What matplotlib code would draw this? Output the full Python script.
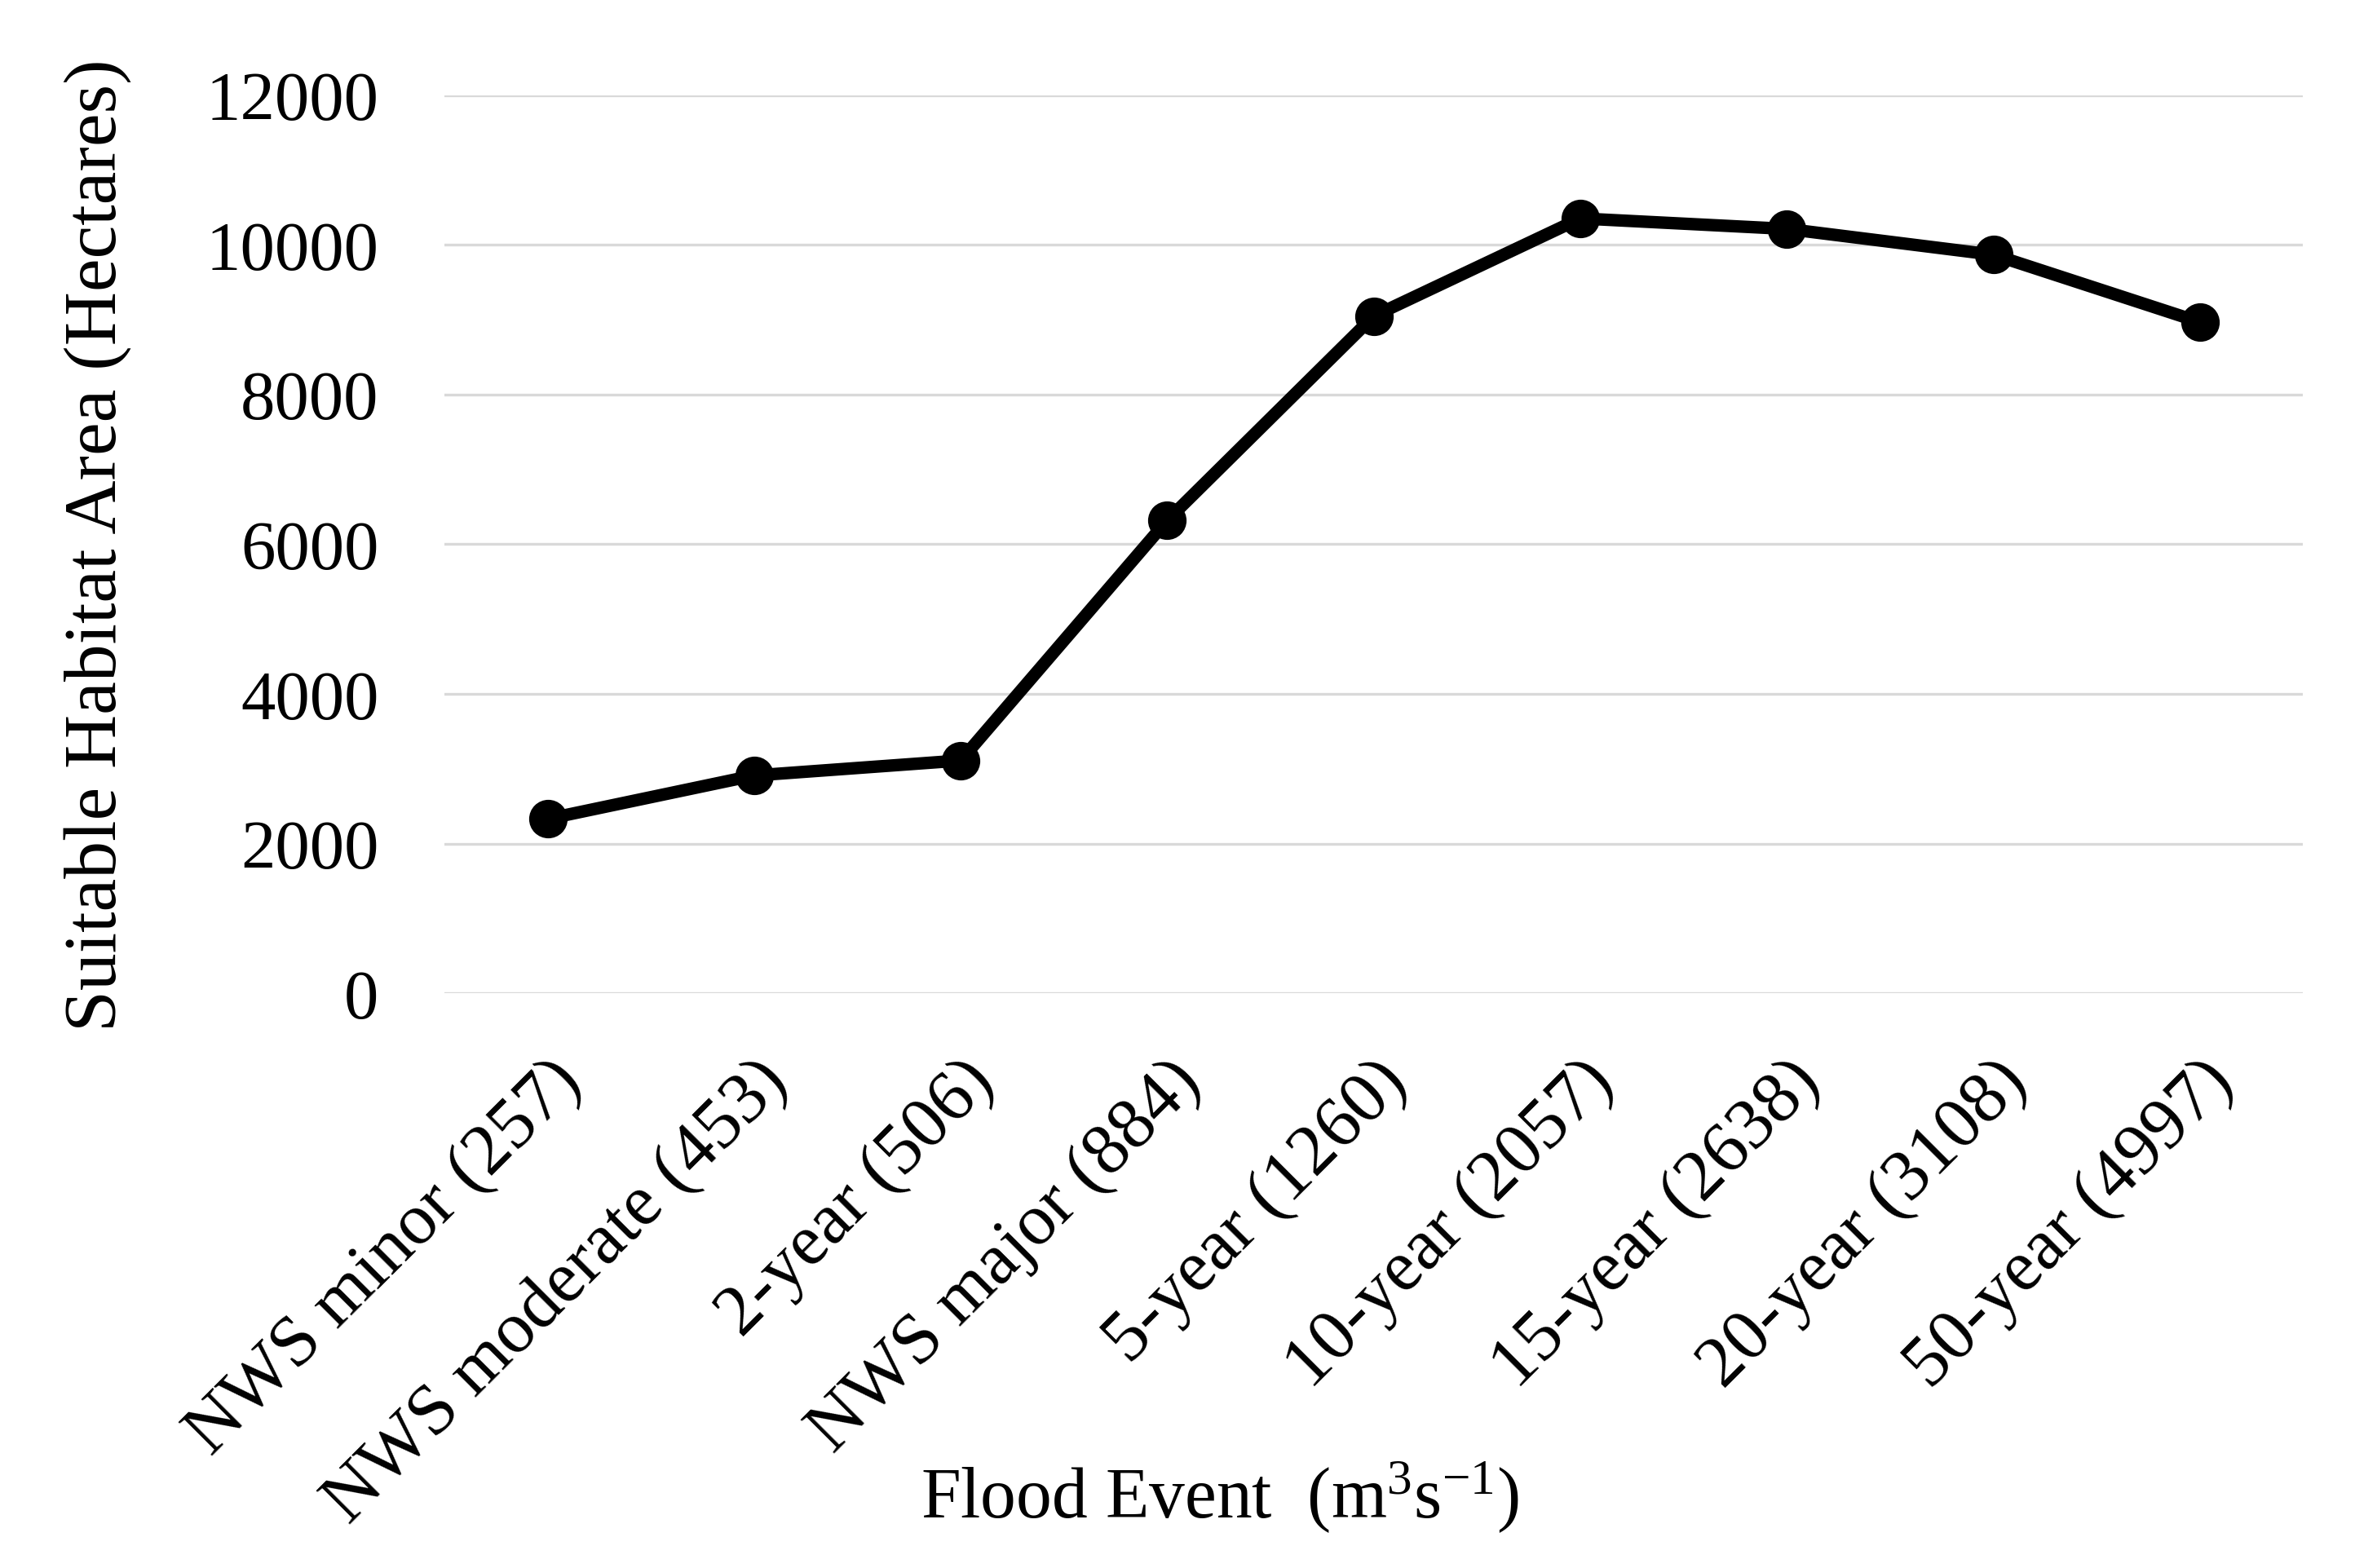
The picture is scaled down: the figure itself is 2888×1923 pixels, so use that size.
import matplotlib
matplotlib.use("Agg")
from matplotlib import pyplot as plt
import numpy as np

# flood events (discharge in m3/s) and suitable habitat area
events = [
    "NWS minor (257)",
    "NWS moderate (453)",
    "2-year (506)",
    "NWS major (884)",
    "5-year (1260)",
    "10-year (2057)",
    "15-year (2638)",
    "20-year (3108)",
    "50-year (4997)",
]
habitat_area = [2330, 2910, 3110, 6320, 9050, 10355, 10215, 9870, 8970]
y_ticks = [0, 2000, 4000, 6000, 8000, 10000, 12000]

plt.rcParams["font.family"] = ["Liberation Serif", "DejaVu Serif"]
plt.rcParams["mathtext.fontset"] = "custom"
plt.rcParams["mathtext.rm"] = "Liberation Serif"

fig = plt.figure(figsize=(14.44, 9.62), dpi=200)
ax = fig.add_axes([0.1887, 0.3664, 0.978 - 0.1887, 0.9387 - 0.3664])

x = np.arange(len(events))
ax.plot(x, habitat_area, color="black", linewidth=5.5, marker="o",
        markersize=16, zorder=3)

ax.set_xlim(-0.5, len(events) - 0.5)
ax.set_ylim(0, 12000)
ax.set_yticks(y_ticks)
ax.set_yticklabels([str(v) for v in y_ticks], fontsize=30.5)
ax.set_xticks(x)
ax.set_xticklabels(events, fontsize=32, rotation=45, ha="right",
                   rotation_mode="anchor")
ax.tick_params(length=0)
ax.tick_params(axis="x", pad=24)
ax.tick_params(axis="y", pad=29)

ax.grid(axis="y", color="#d9d9d9", linewidth=1.2)
ax.set_axisbelow(True)
for s in ax.spines.values():
    s.set_visible(False)

ax.set_ylabel("Suitable Habitat Area (Hectares)", fontsize=33, labelpad=33)
fig.text(0.518, 0.046, r"Flood Event  (m$\mathregular{^3}$s$\mathregular{^{-1}}$)",
         fontsize=31.5, ha="center", va="center")

fig.savefig("out.png", dpi=200)
